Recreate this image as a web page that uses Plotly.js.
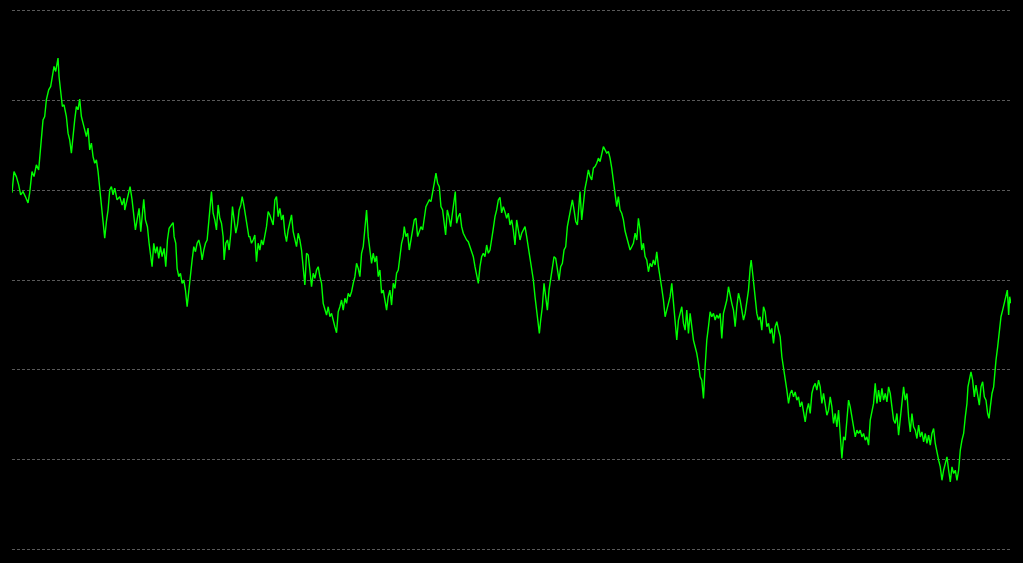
<!DOCTYPE html>
<html>
<head>
<meta charset="utf-8">
<script src="https://cdn.plot.ly/plotly-3.0.1.min.js"></script>
<style>
  html, body { margin: 0; padding: 0; background: #000; }
  #chart { width: 1023px; height: 563px; }
</style>
</head>
<body>
<div id="chart"></div>
<script>
// Elapsed time (ticks) for each sample
const ticks = [
0,6,13,20,26,33,40,48,53,60,66,73,80,86,93,98,103,110,116,121,126,131,138,141,146,151,156,163,168,173,
178,183,188,193,198,203,208,213,218,223,228,233,238,243,248,253,258,263,268,273,278,283,288,293,298,303,308,315,323,330,336,
338,343,350,354,360,365,370,375,381,386,391,395,400,406,411,416,420,425,430,435,440,445,450,456,461,466,471,478,483,486,
491,495,500,505,510,515,520,525,530,535,540,545,550,555,560,565,570,575,580,585,590,595,598,603,608,613,618,623,628,633,
636,641,646,651,656,661,666,671,676,681,686,690,695,700,705,710,
713,718,723,728,733,738,743,748,753,758,763,768,773,778,783,788,793,798,803,808,813,818,823,828,833,838,843,848,853,858,
863,868,873,878,883,888,893,898,903,908,913,918,923,928,933,938,943,948,953,958,963,968,973,978,983,988,993,998,1003,1008,
1013,1018,1023,1028,1033,1038,1043,1048,1053,1058,1063,1068,1073,1078,1083,
1088,1093,1098,1103,1108,1113,1118,1123,1128,1133,1138,1143,1148,1153,1158,1163,1168,1173,1176,1181,1186,1191,1196,1201,1206,
1211,1216,1221,1226,1231,1236,1241,1246,1251,1256,1261,1266,1271,1276,1281,1286,1291,1296,1300,1305,1310,1315,1320,1325,1329,
1333,1338,1343,1348,1353,1358,1363,1368,1373,1378,1383,1388,1393,1398,1403,1408,1413,1418,1423,1428,1433,1438,1443,1448,1453,1458,
1463,1468,1473,1478,1483,1488,1493,1498,1503,1508,1513,1518,1523,1528,1533,1538,1543,1548,1553,1558,1563,1568,1573,1578,1581,
1585,1590,1595,1600,1605,1610,1615,1620,1625,1630,1635,1640,1645,1650,1655,1660,1665,1670,1675,1680,1685,1690,1695,1700,1703,
1708,1713,1718,1723,1728,1733,1738,1743,1748,1753,1758,1763,1768,1773,1778,1783,1788,1793,1798,1803,1808,1813,1818,1823,1828,1833,
1838,1843,1848,1853,1858,1863,1868,1873,1878,1883,1888,1893,1898,1903,1908,1913,1918,1923,1928,1933,1938,1943,1948,1953,1958,
1963,1968,1973,1978,1983,1988,1993,1998,2003,2008,2013,2018,2023,2028,2033,2038,2043,2048,2053,2058,2063,2068,2073,2078,2083,
2088,2093,2098,2103,2108,2113,2118,2123,2128,2133,2138,2143,2148,2153,2158,2163,2168,2173,2178,2183,2188,2193,2198,2203,2208,
2213,2216,2221,2225,2228,2233,2238,2243,2248,2253,2258,2263,2268,2273,2278,2283,2288,2293,2298,2303,2308,2313,2318,2323,2328,
2333,2338,2343,2348,2353,2358,2363,2368,2373,2378,2383,2388,2393,2398,2403,2408,2413,2418,2423,2428,2433,2438,2443,2448,2453,
2458,2463,2468,2473,2478,2483,2488,2493,2498,2503,2508,2513,2518,2523,2528,2533,2538,2543,2548,2553,2558,2563,2568,2573,2578,2583,
2588,2593,2598,2603,2608,2613,2618,2623,2628,2633,2638,2643,2648,2653,2658,2663,2668,2673,2678,2683,2688,2693,2698,2703,2708,
2713,2718,2723,2728,2733,2738,2743,2748,2753,2758,2763,2768,2773,2778,2783,2788,2793,2798,2803,2808,2813,2818,2823,2828,2833,
2838,2843,2848,2853,2858,2863,2866,2871,2875,2880,2885,2890,2895,2900,2905,2910,2915,2920,2925,2929,2933,2938,2943,2946,2950,
2955,2960,2965,2970,2975,2980,2984,2988,2991,2995
];
// Price series
const prices = [
39.73,42.08,41.52,40.59,39.48,39.85,39.29,38.59,39.70,42.08,41.52,42.82,42.27,44.50,47.84,48.21,50.07,51.19,51.56,52.67,
53.79,53.23,54.72,52.67,51.19,49.33,49.51,48.21,46.36,45.61,44.13,46.36,47.84,49.33,48.96,50.15,48.21,47.47,46.54,45.98,
46.92,44.50,45.24,43.75,43.01,43.38,42.08,40.40,38.55,37.06,34.65,36.50,37.80,40.04,40.40,39.48,40.22,38.92,39.29,38.36,
39.11,37.80,38.55,39.48,40.40,38.92,37.06,35.57,36.69,37.99,35.39,37.80,39.00,36.69,35.94,34.09,32.60,31.48,34.09,32.98,
33.71,32.42,33.71,32.60,33.53,31.48,34.46,35.76,36.13,36.39,34.83,34.09,31.30,30.37,30.75,29.63,30.00,28.88,27.02,28.88,
31.11,32.23,33.71,33.15,34.09,34.46,33.71,32.23,33.34,34.09,34.46,36.32,38.17,39.85,37.44,36.69,35.57,38.36,36.88,36.32,
34.83,32.23,34.09,34.46,33.34,35.21,38.17,36.69,35.21,36.13,37.80,38.36,39.29,38.36,37.06,35.57,34.83,34.83,34.09,34.46,
35.02,32.04,34.09,33.34,34.46,33.90,35.02,35.94,37.62,37.25,36.69,36.13,38.92,39.29,37.06,37.99,36.69,37.25,35.21,34.27,
35.57,36.32,37.25,35.39,34.46,33.71,35.21,34.46,33.34,31.48,29.44,32.98,32.79,31.11,29.25,30.75,30.19,31.11,31.48,30.37,
29.63,27.40,26.84,26.10,27.02,25.91,26.28,25.35,24.79,24.12,26.46,27.02,27.77,26.65,27.96,27.40,28.52,28.14,28.69,29.63,
30.37,31.86,31.30,30.37,32.98,33.71,35.57,37.80,34.83,33.34,31.86,32.98,32.00,32.67,30.37,31.11,28.52,28.88,27.77,26.65,
28.14,28.88,27.21,29.63,29.07,30.75,31.11,32.98,34.09,34.83,35.94,34.83,35.21,33.34,34.46,35.57,36.69,36.88,34.83,35.39,
35.94,35.57,36.69,38.17,38.55,38.92,38.73,40.04,40.78,41.90,40.78,40.40,38.17,37.80,36.32,35.02,37.80,37.06,35.94,37.44,
38.55,39.85,36.32,37.06,37.44,35.94,35.21,34.83,34.46,34.27,33.71,33.34,32.60,31.48,30.37,29.63,31.48,32.60,32.98,32.60,
33.90,32.98,33.34,34.83,35.76,37.06,37.80,38.92,39.20,37.47,38.17,37.58,36.88,37.44,36.13,36.69,35.57,33.90,36.69,35.57,
34.46,35.21,35.57,35.94,34.83,33.71,32.23,31.48,30.00,28.14,26.28,25.17,24.05,25.54,27.02,29.63,28.14,26.65,28.88,30.00,
31.11,32.60,32.42,31.11,30.00,31.48,31.86,33.34,33.71,35.94,37.06,37.80,38.92,37.80,36.50,36.13,38.55,39.85,36.69,38.92,
40.22,41.15,42.27,41.52,41.15,42.46,42.63,43.01,43.57,43.19,44.13,44.86,44.50,44.13,44.31,43.57,42.46,41.15,39.67,38.17,
39.29,37.80,37.44,36.69,35.46,34.68,33.90,33.34,33.71,34.09,35.21,34.46,36.88,35.57,33.34,34.09,32.60,32.23,30.92,31.86,
31.48,32.23,31.67,33.15,31.48,30.00,29.07,27.77,25.91,26.65,27.40,28.14,29.63,27.77,25.91,23.31,25.54,26.28,27.02,25.17,
24.42,26.65,24.05,26.28,24.42,23.31,22.56,21.82,20.71,19.21,18.85,16.81,20.33,23.31,24.79,26.46,25.91,26.28,25.54,26.10,
25.73,26.28,23.50,26.28,27.02,27.77,29.25,28.14,27.40,26.65,24.79,27.02,28.52,27.77,26.65,25.54,26.28,27.77,28.88,31.34,
32.23,30.56,29.11,28.14,26.28,25.54,25.91,24.42,27.02,26.46,24.79,25.17,24.05,24.61,22.94,24.79,25.35,24.42,23.68,21.45,
20.33,18.85,17.73,16.25,17.36,17.73,16.98,17.54,16.62,16.98,15.87,16.43,15.50,14.20,15.50,16.25,15.13,17.36,18.10,18.48,
17.73,18.85,18.10,16.25,17.36,15.87,14.94,15.50,16.98,15.87,14.02,15.13,13.64,15.50,13.27,10.11,12.52,12.16,14.39,16.62,
15.87,14.75,14.02,12.52,13.27,12.90,13.27,12.52,12.90,12.16,12.52,11.60,14.39,15.50,16.25,18.48,16.25,17.73,16.43,17.92,
16.62,17.36,16.43,18.10,17.36,15.87,14.39,14.02,15.13,12.71,14.39,16.62,18.10,16.62,17.36,14.75,13.08,15.13,13.64,13.27,
12.34,13.83,12.52,13.08,11.97,12.90,11.79,12.71,11.60,12.90,13.46,11.79,10.67,9.93,9.18,7.69,8.81,9.56,10.29,8.81,
7.51,9.18,8.44,8.81,7.69,8.81,11.04,12.16,12.90,14.75,16.25,18.10,19.21,19.77,18.85,16.98,18.29,16.98,16.06,18.10,
18.66,16.98,16.62,15.13,14.58,15.87,17.36,18.10,19.96,21.08,22.56,24.05,25.91,26.65,27.58,28.52,28.88,26.10,28.14,27.40
];
const gridValues = [0, 10, 20, 30, 40, 50, 60];

const trace = {
  x: ticks,
  y: prices,
  type: 'scatter',
  mode: 'lines',
  line: { color: '#00ff00', width: 1.4 },
  hoverinfo: 'skip'
};

const layout = {
  width: 1023,
  height: 563,
  paper_bgcolor: '#000000',
  plot_bgcolor: '#000000',
  margin: { l: 12, r: 12, t: 8, b: 11, pad: 0 },
  showlegend: false,
  xaxis: {
    range: [ticks[0], ticks[ticks.length - 1]],
    showgrid: false,
    zeroline: false,
    showline: false,
    showticklabels: false,
    ticks: ''
  },
  yaxis: {
    range: [gridValues[0] - 0.3, gridValues[gridValues.length - 1] + 0.3],
    tickmode: 'array',
    tickvals: gridValues,
    showgrid: true,
    gridcolor: '#5a5a5a',
    gridwidth: 1,
    griddash: '3px,2px',
    zeroline: false,
    showline: false,
    showticklabels: false,
    ticks: ''
  }
};

Plotly.newPlot('chart', [trace], layout, { displayModeBar: false, staticPlot: true });
</script>
</body>
</html>
